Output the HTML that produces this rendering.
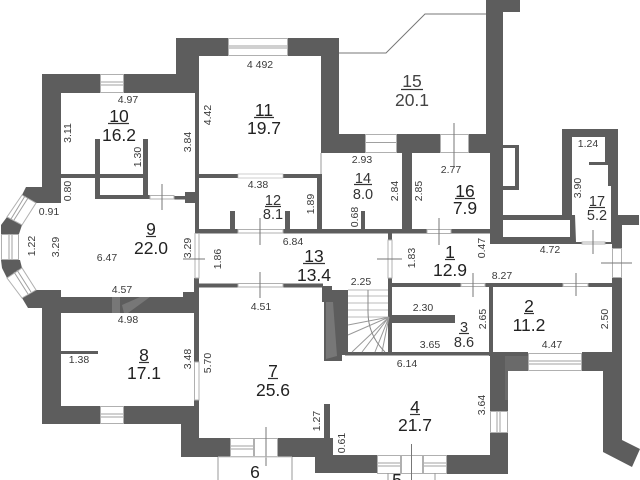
<!DOCTYPE html>
<html><head><meta charset="utf-8"><style>
html,body{margin:0;padding:0;background:#fff;width:640px;height:480px;overflow:hidden}
svg{display:block;filter:blur(.35px)}
text{font-family:"Liberation Sans",sans-serif;text-anchor:middle}
.b{font-size:17.5px;fill:#222}
.m{font-size:14.5px;fill:#333}
.s{font-size:10.5px;fill:#3a3a3a}
.w{fill:#5d5d5d}
.win{fill:#fff;stroke:#b0b0b0;stroke-width:1}
.l{stroke:#777;stroke-width:1;fill:none}
.wl{stroke:#a0a0a0;stroke-width:1;fill:none}
.u{stroke:#333;stroke-width:1.2}
</style></head><body>
<svg width="640" height="480" viewBox="0 0 640 480" xmlns="http://www.w3.org/2000/svg">
<g class="w">
<polygon points="42,74 100,74 100,93 61,93 61,203 36,203 22,195 26,187 42,187"/>
<polygon points="124,74 176,74 176,38 228,38 228,56 199,56 199,233 195,233 195,93 124,93"/>
<polygon points="288,38 339,38 339,134 365,134 365,153 321,153 321,56 288,56"/>
<polygon points="7,217 22,225 19,234 1,234 1,225"/>
<polygon points="1,260 20,260 22,268 7,278 2,268"/>
<polygon points="36,290 61,290 61,297 183,297 183,292 194,292 194,278 199,278 199,362 194,362 194,313 61,313 61,406 100,406 100,424 42,424 42,308 28,308 22,298"/>
<polygon points="194,400 199,400 199,438 230,438 230,457 181,457 181,424 124,424 124,406 194,406"/>
<polygon points="278,438 324,438 324,404 330,404 330,438 333,438 333,455 377,455 377,473 315,473 315,457 278,457"/>
<polygon points="447,455 490,455 490,433 508,433 508,474 447,474"/>
<polygon points="490,411 490,353 528,353 528,371 508,371 508,411"/>
<polygon points="582,352 612,352 612,278 622,278 622,440 640,449 632,467 603,452 603,371 582,371"/>
<polygon points="486,0 520,0 520,12 503,12 503,237 570,237 570,220 503,220 503,215 562,215 562,129 618,129 618,215 639,215 639,225 622,225 622,248 612,248 612,244 605,244 605,242 611,242 611,186 608,186 608,165 589,165 589,162 605,162 605,137 572,137 572,215 575,215 576,242 582,242 582,244 490,244 490,153 469,153 469,134 486,134"/>
<polygon points="397,134 440,134 440,153 412,153 412,229 402,229 402,153 397,153"/>
<polygon points="503,145 519,145 519,190 503,190 503,186 515,186 515,148 503,148"/>
<rect x="199" y="174" width="39" height="4"/>
<rect x="283" y="174" width="39" height="4"/>
<rect x="317" y="174" width="5" height="55"/>
<rect x="199" y="229" width="39" height="4.500"/>
<rect x="283" y="229" width="207" height="4.500"/>
<rect x="230" y="211" width="5" height="18"/>
<rect x="285" y="211" width="5" height="18"/>
<rect x="361" y="211" width="4" height="18"/>
<rect x="61" y="174" width="87" height="4"/>
<rect x="95" y="139" width="5" height="60"/>
<rect x="143" y="139" width="5" height="60"/>
<rect x="95" y="195" width="55" height="4"/>
<rect x="174" y="196" width="11" height="3.500"/>
<rect x="185" y="192" width="10" height="11"/>
<rect x="199" y="283.500" width="39" height="4"/>
<rect x="283" y="283.500" width="40" height="4"/>
<polygon points="322,286 332,286 332,290 348,290 348,355 342,355 342,361 324,361 324,302 322,302"/>
<rect x="388" y="233" width="4" height="7"/>
<rect x="388" y="278" width="4" height="74"/>
<rect x="345" y="352" width="145" height="3.500"/>
<rect x="392" y="283" width="69" height="4"/>
<rect x="485" y="283" width="78" height="4"/>
<rect x="588" y="283" width="24" height="4"/>
<rect x="392" y="315" width="63" height="8"/>
<rect x="489" y="287" width="4" height="69"/>
<rect x="489" y="352" width="39" height="4"/>
<rect x="61" y="351" width="37" height="3"/>
</g>
<g fill="#fff" opacity=".16">
<polygon points="326,302 333,302 337,356 326,359"/>
<rect x="112" y="297" width="8" height="16"/>
<polygon points="122,305 140,297 150,297 128,313 124,313"/>
<polygon points="505,356 528,356 528,371 508,371 508,400 505,400" opacity=".5"/>
</g>
<rect x="238" y="174" width="45" height="4" fill="#fff" stroke="#bbb" stroke-width=".7"/>
<line x1="321" y1="153" x2="321" y2="174" stroke="#999"/>
<g>
<rect class="win" x="100.500" y="74.500" width="23" height="18"/><path class="wl" d="M101 82H123M101 85H123"/>
<rect class="win" x="228.500" y="38.500" width="59" height="17"/><path class="wl" d="M229 46H287M229 48H287"/>
<rect class="win" x="365.500" y="134.500" width="31" height="18"/><path class="wl" d="M366 142.500H396"/>
<rect class="win" x="440.500" y="134.500" width="28" height="18"/>
<rect class="win" x="100.500" y="406.500" width="23" height="17"/><path class="wl" d="M101 414H123M101 417H123"/>
<rect class="win" x="230.500" y="438.500" width="23" height="18"/><path class="wl" d="M231 446H253M231 449H253"/>
<rect class="win" x="254.500" y="438.500" width="23" height="18"/>
<rect class="win" x="377.500" y="455.500" width="23" height="18"/><path class="wl" d="M378 463H400M378 466H400"/>
<rect class="win" x="401.500" y="455.500" width="21" height="18"/>
<rect class="win" x="423.500" y="455.500" width="23" height="18"/><path class="wl" d="M424 463H446M424 466H446"/>
<rect class="win" x="490.500" y="411.500" width="17" height="21"/><path class="wl" d="M497 412V432M500 412V432"/>
<rect class="win" x="528.500" y="353.500" width="53" height="17"/><path class="wl" d="M529 361H581M529 364H581"/>
<rect class="win" x="1.500" y="234.500" width="17" height="25"/><path class="wl" d="M9 235V259M12 235V259"/>
<polygon class="win" points="22,195 36,203 22,225 7,217"/>
<path class="wl" d="M28 198L14 220M25 196L11 219"/>
<polygon class="win" points="7,278 22,268 36,290 22,298"/>
<path class="wl" d="M14 272L28 294M17 270L31 292"/>
<rect class="win" x="612.500" y="248.500" width="9" height="29"/>
<rect class="win" x="150" y="195.500" width="24" height="3.500"/>
<rect class="win" x="238" y="229.500" width="45" height="3.500"/>
<rect class="win" x="238" y="283.500" width="45" height="3.500"/>
<rect class="win" x="461" y="283.500" width="24" height="3"/>
<rect class="win" x="563" y="283.500" width="25" height="3"/>
<rect class="win" x="427" y="229.500" width="24" height="4"/>
<rect class="win" x="582" y="242" width="23" height="2"/>
<rect class="win" x="195" y="233.500" width="4" height="44.500"/>
<rect class="win" x="194.500" y="362" width="4.500" height="38"/>
<rect class="win" x="388" y="240" width="4" height="38"/>
</g>
<g class="l">
<path d="M339 53H386L425 14H486"/>
<path d="M162 184V210M260 218V245M260 272V298M183 259H205M377 259H402M473 273V297M576 273V296M439 218V245M593 230V254M601 263H632M454 123V168M266 427V466M411.500 444V480"/>
<path d="M218 457V480M292 457V480M388 473V480M435 473V480" stroke="#999"/>
<path d="M218 457H292" stroke="#ccc"/>
<path d="M348 290H388M348 296H388M348 303H388M348 310H388M348 317H388" stroke="#bbb"/>
<path d="M389 317L348 325M389 317L348 335M389 317L352 352M389 317L362 352M389 317L375 352M389 317L382 352" stroke="#999"/>
<path d="M368 290V312Q368 335 385 352" stroke="#888"/>
</g>
<g class="u">
<line x1="108" y1="123.500" x2="129" y2="123.500"/>
<line x1="254" y1="117.500" x2="274" y2="117.500"/>
<line x1="401" y1="89.500" x2="423" y2="89.500"/>
<line x1="354" y1="184.500" x2="372" y2="184.500"/>
<line x1="455" y1="198.500" x2="475" y2="198.500"/>
<line x1="589" y1="207.500" x2="605" y2="207.500"/>
<line x1="265" y1="206.500" x2="281" y2="206.500"/>
<line x1="146" y1="236.500" x2="156" y2="236.500"/>
<line x1="303" y1="263.500" x2="325" y2="263.500"/>
<line x1="445" y1="259.500" x2="455" y2="259.500"/>
<line x1="524" y1="313.500" x2="534" y2="313.500"/>
<line x1="459" y1="333.500" x2="469" y2="333.500"/>
<line x1="410" y1="414.500" x2="420" y2="414.500"/>
<line x1="268" y1="378.500" x2="278" y2="378.500"/>
<line x1="139" y1="362.500" x2="149" y2="362.500"/>
</g>
<g class="b">
<text x="119" y="122">10</text><text x="119" y="141">16.2</text>
<text x="264" y="116">11</text><text x="264" y="134">19.7</text>
<text x="412" y="87" style="fill:#444">15</text><text x="412" y="106" style="fill:#444">20.1</text>
<text x="465" y="197">16</text><text x="465" y="214">7.9</text>
<text x="151" y="235">9</text><text x="151" y="254">22.0</text>
<text x="314" y="262">13</text><text x="314" y="281">13.4</text>
<text x="450" y="258">1</text><text x="450" y="276">12.9</text>
<text x="529" y="312">2</text><text x="529" y="331">11.2</text>
<text x="415" y="413">4</text><text x="415" y="431">21.7</text>
<text x="273" y="377">7</text><text x="273" y="396">25.6</text>
<text x="144" y="361">8</text><text x="144" y="379">17.1</text>
<text x="255" y="478">6</text><text x="397" y="486">5</text>
</g>
<g class="m">
<text x="363" y="183">14</text><text x="363" y="199">8.0</text>
<text x="597" y="206">17</text><text x="597" y="220">5.2</text>
<text x="273" y="205">12</text><text x="273" y="219">8.1</text>
<text x="464" y="332">3</text><text x="464" y="347">8.6</text>
</g>
<g class="s">
<text x="260" y="68">4 492</text>
<text x="128" y="103">4.97</text>
<text x="49" y="215">0.91</text>
<text x="258" y="188">4.38</text>
<text x="293" y="245">6.84</text>
<text x="107" y="261">6.47</text>
<text x="122" y="293">4.57</text>
<text x="261" y="310">4.51</text>
<text x="128" y="323">4.98</text>
<text x="79" y="363">1.38</text>
<text x="362" y="163">2.93</text>
<text x="451" y="173">2.77</text>
<text x="588" y="147">1.24</text>
<text x="550" y="253">4.72</text>
<text x="502" y="279">8.27</text>
<text x="361" y="285">2.25</text>
<text x="423" y="311">2.30</text>
<text x="430" y="348">3.65</text>
<text x="552" y="348">4.47</text>
<text x="407" y="367">6.14</text>
<text transform="translate(71 133) rotate(-90)">3.11</text>
<text transform="translate(211 115) rotate(-90)">4.42</text>
<text transform="translate(191 142) rotate(-90)">3.84</text>
<text transform="translate(141 157) rotate(-90)">1.30</text>
<text transform="translate(71 191) rotate(-90)">0.80</text>
<text transform="translate(314 204) rotate(-90)">1.89</text>
<text transform="translate(35 246) rotate(-90)">1.22</text>
<text transform="translate(59 247) rotate(-90)">3.29</text>
<text transform="translate(191 248) rotate(-90)">3.29</text>
<text transform="translate(221 259) rotate(-90)">1.86</text>
<text transform="translate(191 359) rotate(-90)">3.48</text>
<text transform="translate(211 363) rotate(-90)">5.70</text>
<text transform="translate(320 421) rotate(-90)">1.27</text>
<text transform="translate(345 443) rotate(-90)">0.61</text>
<text transform="translate(398 191) rotate(-90)">2.84</text>
<text transform="translate(422 191) rotate(-90)">2.85</text>
<text transform="translate(358 217) rotate(-90)">0.68</text>
<text transform="translate(581 188) rotate(-90)">3.90</text>
<text transform="translate(415 258) rotate(-90)">1.83</text>
<text transform="translate(485 248) rotate(-90)">0.47</text>
<text transform="translate(486 319) rotate(-90)">2.65</text>
<text transform="translate(608 319) rotate(-90)">2.50</text>
<text transform="translate(485 405) rotate(-90)">3.64</text>
</g>
</svg>
</body></html>
